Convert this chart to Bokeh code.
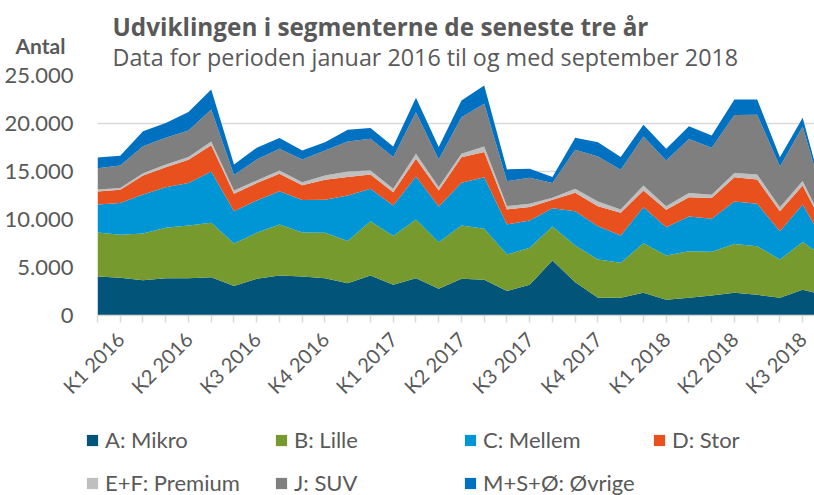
import math
from bokeh.plotting import figure
from bokeh.layouts import column, row
from bokeh.models import (ColumnDataSource, Range1d, FixedTicker, CustomJSTickFormatter,
                          Legend, LegendItem, Label)
from bokeh.embed import file_html
from bokeh.resources import INLINE

# Months: January 2016 .. September 2018 (index 0..32)
months = list(range(33))
quarter_idx = [1, 4, 7, 10, 13, 16, 19, 22, 25, 28, 31]
quarter_labels = ["K1 2016", "K2 2016", "K3 2016", "K4 2016", "K1 2017", "K2 2017",
                  "K3 2017", "K4 2017", "K1 2018", "K2 2018", "K3 2018"]

series_names = ["A: Mikro", "B: Lille", "C: Mellem", "D: Stor",
                "E+F: Premium", "J: SUV", "M+S+Ø: Øvrige"]
colors = ["#025478", "#779A2E", "#0096D6", "#E8501D", "#BFBFBF", "#7F7F7F", "#0070C0"]

mikro = [4060, 3930, 3680, 3890, 3890, 3990, 3060, 3820, 4170, 4060, 3890,
         3370, 4170, 3200, 3890, 2780, 3820, 3720, 2540, 3200, 5730, 3470,
         1840, 1840, 2360, 1630, 1840, 2090, 2360, 2150, 1840, 2680, 2100]
lille = [4580, 4480, 4860, 5240, 5490, 5660, 4440, 4790, 5310, 4580, 4720,
         4380, 5660, 5070, 6110, 4860, 5560, 5310, 3820, 3850, 3540, 3820,
         3990, 3650, 5170, 4620, 4860, 4550, 5100, 5070, 3990, 4970, 3900]
mellem = [2920, 3300, 4060, 4240, 4410, 5350, 3370, 3370, 3470, 3400, 3440,
          4760, 3370, 3190, 4480, 3720, 4440, 5380, 3130, 2850, 1910, 3580,
          3470, 2850, 3750, 2950, 3610, 3440, 4410, 4410, 2950, 3920, 1450]
stor = [1360, 1390, 1980, 2080, 2430, 2740, 1810, 1810, 1810, 1530, 2080,
        1910, 1490, 1390, 1840, 1670, 2670, 2610, 1560, 1390, 870, 1910,
        2080, 2360, 1740, 1810, 2010, 2150, 2530, 2530, 2080, 1980, 1500]
premium = [210, 170, 240, 280, 280, 380, 350, 280, 350, 310, 450,
           590, 420, 350, 520, 350, 350, 590, 350, 350, 210, 420,
           490, 350, 520, 380, 450, 350, 450, 520, 420, 450, 250]
suv = [2220, 2360, 2810, 2780, 2780, 3330, 1600, 2190, 2260, 2360, 2600,
       3120, 3300, 3300, 4340, 2880, 3820, 4450, 2600, 2710, 1530, 4060,
       4690, 4130, 5100, 4760, 5620, 4900, 6040, 6220, 4240, 5690, 2350]
oevrige = [1110, 1010, 1560, 1530, 1910, 2080, 1110, 1220, 1110, 940, 870,
           1220, 1110, 1110, 1490, 1290, 1740, 1910, 1220, 940, 630, 1250,
           1490, 1320, 1220, 1220, 1320, 1280, 1600, 1600, 970, 900, 250]

y_ticks = [0, 5000, 10000, 15000, 20000, 25000]

keys = ["mikro", "lille", "mellem", "stor", "premium", "suv", "oevrige"]
source = ColumnDataSource(dict(x=months, mikro=mikro, lille=lille, mellem=mellem,
                               stor=stor, premium=premium, suv=suv, oevrige=oevrige))

TXT = "#595959"
FONT = "Lato"
TFONT = "Open Sans"
GRID = "#D9D9D9"
W = 814
LEFT = 97
OVERLAP = 17  # main chart's (transparent) top border overlaps the header


def blank_fig(height, yr, left, yaxis=None):
    f = figure(width=W, height=height, x_range=Range1d(0, W - left), y_range=yr,
               output_backend="svg", toolbar_location=None,
               x_axis_location=None, y_axis_location=yaxis,
               min_border_left=left, min_border_right=0,
               min_border_top=0, min_border_bottom=0)
    f.outline_line_color = None
    f.xgrid.visible = False
    f.ygrid.visible = False
    return f


# ---------- header (titles) ----------
HH = 75
hdr = blank_fig(HH, Range1d(HH, 0), LEFT, yaxis="left")
hdr.add_layout(Label(x=15, y=26, text="Udviklingen i segmenterne de seneste tre år",
                     text_font=TFONT, text_font_size="24.3px", text_font_style="bold",
                     text_color=TXT, text_baseline="alphabetic"))
hdr.add_layout(Label(x=15, y=56, text="Data for perioden januar 2016 til og med september 2018",
                     text_font=TFONT, text_font_size="23.3px", text_color=TXT,
                     text_baseline="alphabetic"))
# unit label of the value axis ("Antal"), drawn by the header's own axis
hy = hdr.yaxis[0]
hy.ticker = FixedTicker(ticks=[45])
hy.major_label_overrides = {45: "Antal"}
hy.axis_line_color = None
hy.major_tick_line_color = None
hy.minor_tick_line_color = None
hy.major_tick_in = 0
hy.major_tick_out = 0
hy.major_label_standoff = 32
hy.major_label_text_font = FONT
hy.major_label_text_font_size = "21px"
hy.major_label_text_font_style = "bold"
hy.major_label_text_color = TXT

# ---------- main chart ----------
p = figure(width=W, height=OVERLAP + 240 + 95, x_range=Range1d(0, 31.52),
           y_range=Range1d(0, 25000),
           output_backend="svg", toolbar_location=None,
           min_border_left=LEFT, min_border_right=0, min_border_top=OVERLAP,
           min_border_bottom=95)
p.outline_line_color = None
p.border_fill_alpha = 0
p.styles = {"margin-top": f"-{OVERLAP}px"}

renderers = p.varea_stack(stackers=keys, x="x", color=colors, source=source)

p.xaxis.ticker = FixedTicker(ticks=months)
overrides = {i: "" for i in months}
for i, lab in zip(quarter_idx, quarter_labels):
    overrides[i] = lab
p.xaxis.major_label_overrides = overrides
p.xaxis.major_label_orientation = math.pi / 4
p.xaxis.axis_line_color = GRID
p.xaxis.axis_line_width = 1.5
p.xaxis.major_tick_line_color = GRID
p.xaxis.major_tick_line_width = 1.5
p.xaxis.major_tick_in = 0
p.xaxis.major_tick_out = 7
p.xaxis.minor_tick_line_color = None
p.xaxis.major_label_standoff = 13
p.xaxis.major_label_text_font = FONT
p.xaxis.major_label_text_font_size = "20px"
p.xaxis.major_label_text_color = TXT
p.xgrid.visible = False

p.yaxis.ticker = FixedTicker(ticks=y_ticks)
p.yaxis.formatter = CustomJSTickFormatter(
    code="return Math.round(tick).toString().replace(/\\B(?=(\\d{3})+(?!\\d))/g, '.');")
p.yaxis.axis_line_color = None
p.yaxis.major_tick_line_color = None
p.yaxis.minor_tick_line_color = None
p.yaxis.major_tick_in = 0
p.yaxis.major_tick_out = 0
p.yaxis.major_label_standoff = 24
p.yaxis.major_label_text_font = FONT
p.yaxis.major_label_text_font_size = "22px"
p.yaxis.major_label_text_color = TXT
p.ygrid.ticker = FixedTicker(ticks=y_ticks)
p.ygrid.grid_line_color = GRID
p.ygrid.grid_line_width = 1.5

# ---------- footer (legend) ----------
FH = 85
ftr = blank_fig(FH, Range1d(0, FH), 0)
# legend swatches (kept below the visible range of the footer)
proxies = [ftr.varea(x=[0, 1], y1=[-20, -20], y2=[-10, -10], fill_color=c) for c in colors]


def make_legend(idx, loc):
    items = [LegendItem(label=series_names[i], renderers=[proxies[i]]) for i in idx]
    return Legend(items=items, orientation="horizontal", location=loc,
                  glyph_width=14, glyph_height=14, label_standoff=6, label_width=169,
                  spacing=0, padding=0, margin=0,
                  border_line_color=None, background_fill_alpha=0,
                  label_text_font=FONT, label_text_font_size="22px",
                  label_text_color=TXT)


ftr.add_layout(make_legend([0, 1, 2, 3], (85, 42)))
ftr.add_layout(make_legend([4, 5, 6], (85, -1)))

layout = column(hdr, p, row(ftr), spacing=0)
open("out.html", "w").write(file_html(layout, INLINE))
